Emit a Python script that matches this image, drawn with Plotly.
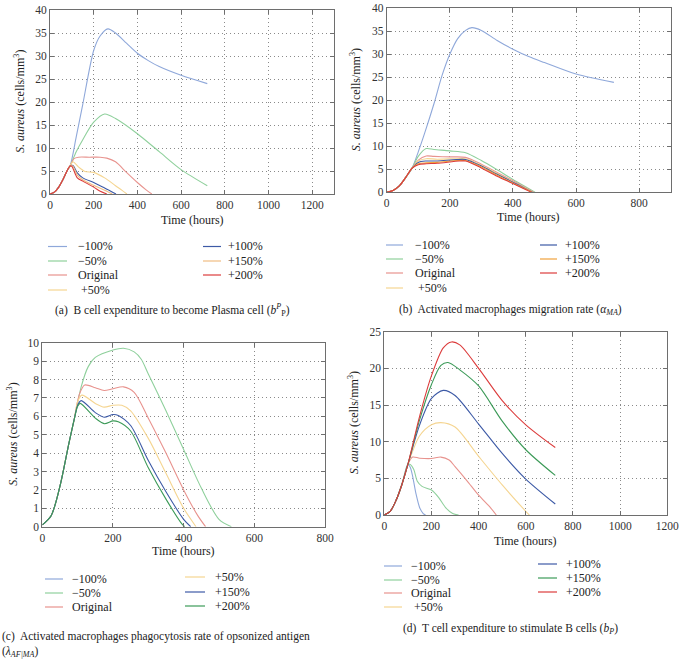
import plotly.graph_objects as go

# Sensitivity curves of S. aureus for four parameters, four panels (a)-(d)

SERIF = "'Liberation Serif', 'DejaVu Serif', serif"
W, H = 681, 662

COLORS = {
    "lblue": "#8fa8da",
    "lgreen": "#8fd09c",
    "salmon": "#e8938e",
    "lyellow": "#f5d591",
    "dblue": "#3d5aa6",
    "lorange": "#f0bc82",
    "orange": "#f0a23c",
    "red": "#dc3c3c",
    "dgreen": "#3c9a58",
}

# ---- panel (a): B cell expenditure to become Plasma cell ----
RISE_A_T = [0, 20, 40, 60, 80, 92]
RISE_A_V = [0, 0.4, 1.5, 3.2, 5.2, 6.1]
A_M100_T = RISE_A_T + [120, 150, 200, 230, 265, 300, 350, 400, 450, 500, 600, 720]
A_M100_V = RISE_A_V + [12.4, 19.5, 31.2, 34.4, 35.9, 35.0, 32.8, 30.6, 29.0, 27.7, 25.8, 24.0]
A_M50_T = RISE_A_T + [120, 150, 200, 250, 300, 400, 500, 600, 720]
A_M50_V = RISE_A_V + [9.2, 11.8, 15.6, 17.4, 16.4, 13.1, 9.2, 5.3, 1.8]
A_ORIG_T = RISE_A_T + [110, 130, 180, 230, 260, 300, 350, 400, 440, 466]
A_ORIG_V = RISE_A_V + [7.7, 8.0, 8.0, 8.0, 7.8, 7.0, 4.7, 2.5, 0.9, 0]
A_P50_T = RISE_A_T + [105, 130, 160, 200, 250, 300, 330, 352]
A_P50_V = RISE_A_V + [7.0, 5.9, 4.9, 4.7, 3.5, 1.8, 0.8, 0]
A_P100_T = RISE_A_T + [105, 125, 150, 200, 250, 302]
A_P100_V = RISE_A_V + [6.2, 4.6, 3.5, 2.5, 1.3, 0]
A_P150_T = RISE_A_T + [104, 125, 150, 200, 250, 285]
A_P150_V = RISE_A_V + [6.1, 4.1, 3.1, 1.9, 0.8, 0]
A_P200_T = RISE_A_T + [100, 125, 150, 200, 230, 260]
A_P200_V = RISE_A_V + [6.0, 3.5, 2.8, 1.5, 0.6, 0]

# ---- panel (b): activated macrophages migration rate ----
RISE_B_T = [0, 20, 40, 60, 80]
RISE_B_V = [0, 0.4, 1.4, 3.2, 5.2]
B_M100_T = RISE_B_T + [100, 120, 150, 175, 200, 225, 250, 270, 300, 350, 400, 450, 500, 600, 720]
B_M100_V = RISE_B_V + [8.8, 12.8, 19.3, 25.3, 30.0, 33.4, 35.2, 35.8, 35.2, 33.0, 31.1, 29.5, 28.2, 25.7, 23.9]
B_M50_T = RISE_B_T + [100, 125, 150, 200, 250, 300, 350, 400, 440, 470]
B_M50_V = RISE_B_V + [7.8, 9.5, 9.3, 9.0, 8.6, 6.9, 4.9, 2.8, 1.2, 0]
B_ORIG_T = RISE_B_T + [100, 125, 150, 200, 250, 300, 350, 400, 440, 466]
B_ORIG_V = RISE_B_V + [7.0, 7.9, 7.8, 7.7, 7.6, 6.1, 4.3, 2.5, 1.0, 0]
B_P50_T = RISE_B_T + [100, 125, 160, 220, 250, 300, 350, 400, 440, 464]
B_P50_V = RISE_B_V + [6.8, 7.3, 7.2, 7.3, 7.3, 5.9, 4.1, 2.3, 0.9, 0]
B_P100_T = RISE_B_T + [100, 125, 160, 220, 250, 300, 350, 400, 440, 462]
B_P100_V = RISE_B_V + [6.5, 6.8, 6.8, 7.1, 7.1, 5.7, 3.9, 2.2, 0.8, 0]
B_P150_T = RISE_B_T + [100, 125, 160, 225, 250, 300, 350, 400, 440, 460]
B_P150_V = RISE_B_V + [6.2, 6.4, 6.5, 6.9, 6.9, 5.5, 3.7, 2.0, 0.7, 0]
B_P200_T = RISE_B_T + [100, 125, 160, 230, 250, 300, 350, 400, 440, 458]
B_P200_V = RISE_B_V + [6.0, 6.2, 6.3, 6.8, 6.8, 5.3, 3.5, 1.9, 0.6, 0]

# ---- panel (c): phagocytosis rate of opsonized antigen ----
RISE_C_T = [0, 25, 50, 75, 90]
RISE_C_V = [0.1, 0.6, 2.2, 4.5, 5.8]
C_M50_T = RISE_C_T + [110, 130, 150, 200, 230, 260, 280, 300, 350, 400, 450, 500, 535]
C_M50_V = RISE_C_V + [7.6, 8.7, 9.2, 9.6, 9.7, 9.5, 9.1, 8.3, 6.3, 4.2, 2.1, 0.4, 0]
C_ORIG_T = RISE_C_T + [105, 120, 150, 175, 200, 230, 260, 300, 350, 400, 440, 462]
C_ORIG_V = RISE_C_V + [7.2, 7.7, 7.55, 7.4, 7.5, 7.6, 7.3, 5.9, 4.0, 2.0, 0.6, 0]
C_P50_T = RISE_C_T + [100, 112, 150, 175, 200, 225, 250, 300, 350, 400, 435]
C_P50_V = RISE_C_V + [6.8, 7.15, 6.7, 6.5, 6.6, 6.6, 6.3, 4.8, 2.9, 1.0, 0]
C_P150_T = RISE_C_T + [100, 110, 150, 175, 200, 215, 250, 300, 350, 400, 420]
C_P150_V = RISE_C_V + [6.6, 6.85, 6.2, 5.95, 6.1, 6.05, 5.5, 3.6, 1.9, 0.4, 0]
C_P200_T = RISE_C_T + [100, 107, 150, 175, 200, 215, 250, 300, 350, 395, 403]
C_P200_V = RISE_C_V + [6.55, 6.7, 5.9, 5.6, 5.75, 5.7, 5.2, 3.2, 1.5, 0.15, 0]

# ---- panel (d): T cell expenditure to stimulate B cells ----
RISE_D_T = [0, 25, 50, 75, 100]
RISE_D_V = [0, 0.5, 2.0, 4.2, 6.9]
D_M100_T = RISE_D_T + [110, 120, 135, 150, 165, 175]
D_M100_V = RISE_D_V + [6.5, 5.3, 2.8, 1.0, 0.2, 0]
D_M50_T = RISE_D_T + [110, 125, 140, 160, 200, 230, 260, 290, 315]
D_M50_V = RISE_D_V + [6.9, 6.2, 4.6, 3.9, 3.4, 2.4, 1.0, 0.2, 0]
D_ORIG_T = RISE_D_T + [120, 150, 200, 240, 275, 300, 350, 400, 450, 475]
D_ORIG_V = RISE_D_V + [7.9, 7.75, 7.7, 7.9, 7.5, 6.6, 4.7, 2.7, 1.0, 0]
D_P50_T = RISE_D_T + [150, 200, 240, 300, 400, 500, 600, 615]
D_P50_V = RISE_D_V + [10.8, 12.3, 12.6, 12.0, 8.0, 4.1, 0.5, 0]
D_P100_T = RISE_D_T + [150, 200, 250, 300, 400, 500, 600, 725]
D_P100_V = RISE_D_V + [12.3, 15.9, 17.0, 16.3, 12.4, 8.4, 4.9, 1.5]
D_P150_T = RISE_D_T + [150, 200, 240, 270, 320, 400, 500, 600, 725]
D_P150_V = RISE_D_V + [13.0, 17.8, 20.4, 20.8, 19.8, 17.6, 12.8, 8.9, 5.4]
D_P200_T = RISE_D_T + [150, 200, 250, 285, 320, 400, 500, 600, 725]
D_P200_V = RISE_D_V + [13.5, 19.0, 22.8, 23.6, 23.2, 20.0, 15.6, 12.3, 9.2]


def px(x):
    return x / W


def py(y):
    return 1 - y / H


# (label, t, v, colour) per panel
SERIES_A = [
    ("−100%", A_M100_T, A_M100_V, "lblue"),
    ("−50%", A_M50_T, A_M50_V, "lgreen"),
    ("Original", A_ORIG_T, A_ORIG_V, "salmon"),
    ("+50%", A_P50_T, A_P50_V, "lyellow"),
    ("+100%", A_P100_T, A_P100_V, "dblue"),
    ("+150%", A_P150_T, A_P150_V, "lorange"),
    ("+200%", A_P200_T, A_P200_V, "red"),
]
SERIES_B = [
    ("−100%", B_M100_T, B_M100_V, "lblue"),
    ("−50%", B_M50_T, B_M50_V, "lgreen"),
    ("Original", B_ORIG_T, B_ORIG_V, "salmon"),
    ("+50%", B_P50_T, B_P50_V, "lyellow"),
    ("+100%", B_P100_T, B_P100_V, "dblue"),
    ("+150%", B_P150_T, B_P150_V, "orange"),
    ("+200%", B_P200_T, B_P200_V, "red"),
]
SERIES_C = [
    ("−50%", C_M50_T, C_M50_V, "lgreen"),
    ("Original", C_ORIG_T, C_ORIG_V, "salmon"),
    ("+50%", C_P50_T, C_P50_V, "lyellow"),
    ("+150%", C_P150_T, C_P150_V, "dblue"),
    ("+200%", C_P200_T, C_P200_V, "dgreen"),
]
SERIES_D = [
    ("−100%", D_M100_T, D_M100_V, "lblue"),
    ("−50%", D_M50_T, D_M50_V, "lgreen"),
    ("Original", D_ORIG_T, D_ORIG_V, "salmon"),
    ("+50%", D_P50_T, D_P50_V, "lyellow"),
    ("+100%", D_P100_T, D_P100_V, "dblue"),
    ("+150%", D_P150_T, D_P150_V, "dgreen"),
    ("+200%", D_P200_T, D_P200_V, "red"),
]

# panel geometry in pixels: plot box, axis ranges, ticks, title / legend / caption spots
PANELS = [
    dict(ax="", series=SERIES_A, box=(50, 10, 334, 194), xr=1300, yr=40, ydt=5,
         ytitle_x=20, xtitle_y=220,
         legend_left=[("−100%", "lblue"), ("−50%", "lgreen"), ("Original", "salmon"), (" +50%", "lyellow")],
         legend_right=[("+100%", "dblue"), ("+150%", "lorange"), ("+200%", "red")],
         lx=(48, 67, 76), rx=(203, 221, 226), ly=[246.5, 261, 275, 290], ry=[246.5, 261, 275],
         caption="(a)  B cell expenditure to become Plasma cell (<i>b</i><sup><i>P</i></sup><sub>P</sub>)",
         cap_xy=(172, 310), cap_anchor="center", cap_yanchor="middle"),
    dict(ax="2", series=SERIES_B, box=(386.7, 8.3, 670.7, 192.3), xr=900, yr=40, ydt=5,
         ytitle_x=355, xtitle_y=217,
         legend_left=[("−100%", "lblue"), ("−50%", "lgreen"), ("Original", "salmon"), (" +50%", "lyellow")],
         legend_right=[("+100%", "dblue"), ("+150%", "orange"), ("+200%", "red")],
         lx=(386, 403, 413), rx=(540, 557, 563), ly=[245, 259, 273, 288], ry=[245, 259, 273],
         caption="(b)  Activated macrophages migration rate (<i>α</i><sub><i>MA</i></sub>)",
         cap_xy=(510, 310), cap_anchor="center", cap_yanchor="middle"),
    dict(ax="3", series=SERIES_C, box=(42.3, 342.7, 325, 526.7), xr=800, yr=10, ydt=1,
         ytitle_x=13, xtitle_y=551,
         legend_left=[("−100%", "lblue"), ("−50%", "lgreen"), ("Original", "salmon")],
         legend_right=[("+50%", "lyellow"), ("+150%", "dblue"), ("+200%", "dgreen")],
         lx=(45, 63, 70), rx=(185, 205, 213), ly=[579, 593, 607], ry=[577, 592, 606],
         caption="(c)  Activated macrophages phagocytosis rate of opsonized antigen<br>"
                 "(<i>λ</i><sub><i>AF|MA</i></sub>)",
         cap_xy=(0, 661), cap_anchor="left", cap_yanchor="bottom"),
    dict(ax="4", series=SERIES_D, box=(384.3, 331.7, 667.3, 515), xr=1200, yr=25, ydt=5,
         ytitle_x=353, xtitle_y=541,
         legend_left=[("−100%", "lblue"), ("−50%", "lgreen"), ("Original", "salmon"), (" +50%", "lyellow")],
         legend_right=[("+100%", "dblue"), ("+150%", "dgreen"), ("+200%", "red")],
         lx=(384, 402, 409), rx=(538, 557, 564), ly=[566, 580, 593, 607], ry=[564, 578, 592],
         caption="(d)  T cell expenditure to stimulate B cells (<i>b</i><sub><i>P</i></sub>)",
         cap_xy=(511, 629), cap_anchor="center", cap_yanchor="middle"),
]

fig = go.Figure()
shapes = []
annotations = []
layout_axes = {}

for p in PANELS:
    x0, y0, x1, y1 = p["box"]
    xname = "xaxis" + p["ax"]
    yname = "yaxis" + p["ax"]
    xref = "x" + p["ax"]
    yref = "y" + p["ax"]

    axis_style = dict(
        showgrid=True, gridcolor="#8a8a8a", griddash="1px,3px", gridwidth=1,
        showline=True, linecolor="#6e6e6e", linewidth=1, mirror="ticks",
        ticks="inside", ticklen=4, tickcolor="#6e6e6e", zeroline=False,
        automargin=False,
        tickfont=dict(family=SERIF, size=11.5, color="#333"),
    )
    layout_axes[xname] = dict(axis_style, domain=[px(x0), px(x1)], range=[0, p["xr"]],
                              dtick=200, anchor=yref)
    layout_axes[yname] = dict(axis_style, domain=[py(y1), py(y0)], range=[0, p["yr"]],
                              dtick=p["ydt"], anchor=xref)

    for label, t, v, c in p["series"]:
        fig.add_trace(go.Scatter(
            x=t, y=v, mode="lines", name=label, showlegend=False,
            line=dict(color=COLORS[c], width=1.1, shape="spline", smoothing=0.8),
            xaxis=xref, yaxis=yref, hoverinfo="skip",
        ))

    # axis titles
    annotations.append(dict(
        x=px((x0 + x1) / 2), y=py(p["xtitle_y"]), xref="paper", yref="paper",
        text="Time (hours)", showarrow=False, xanchor="center", yanchor="middle",
        font=dict(family=SERIF, size=12, color="#222"),
    ))
    annotations.append(dict(
        x=px(p["ytitle_x"]), y=py((y0 + y1) / 2), xref="paper", yref="paper",
        text="<i>S. aureus</i> (cells/mm<sup>3</sup>)", showarrow=False, textangle=-90,
        xanchor="center", yanchor="middle", font=dict(family=SERIF, size=12, color="#222"),
    ))

    # hand-drawn two-column legend
    for entries, (lx0, lx1, tx), rows in ((p["legend_left"], p["lx"], p["ly"]),
                                          (p["legend_right"], p["rx"], p["ry"])):
        for (label, c), yy in zip(entries, rows):
            shapes.append(dict(type="line", xref="paper", yref="paper",
                               x0=px(lx0), x1=px(lx1), y0=py(yy), y1=py(yy),
                               line=dict(color=COLORS[c], width=1.2)))
            annotations.append(dict(
                x=px(tx), y=py(yy), xref="paper", yref="paper", text=label,
                showarrow=False, xanchor="left", yanchor="middle",
                font=dict(family=SERIF, size=12, color="#222"),
            ))

    # caption
    cx, cy = p["cap_xy"]
    annotations.append(dict(
        x=px(cx), y=py(cy), xref="paper", yref="paper", text=p["caption"],
        showarrow=False, xanchor=p["cap_anchor"], yanchor=p["cap_yanchor"], align="left",
        font=dict(family=SERIF, size=11.5, color="#222"),
    ))

fig.update_layout(
    template="none",
    width=W, height=H,
    margin=dict(l=0, r=0, t=0, b=0, autoexpand=False),
    paper_bgcolor="white", plot_bgcolor="white",
    showlegend=False,
    shapes=shapes,
    annotations=annotations,
    **layout_axes,
)

# drop the browser's default 8px body margin so the figure sits at the page corner
fig.write_html("out.html", config={"displayModeBar": False},
               post_script="document.body.style.margin = '0px';")
